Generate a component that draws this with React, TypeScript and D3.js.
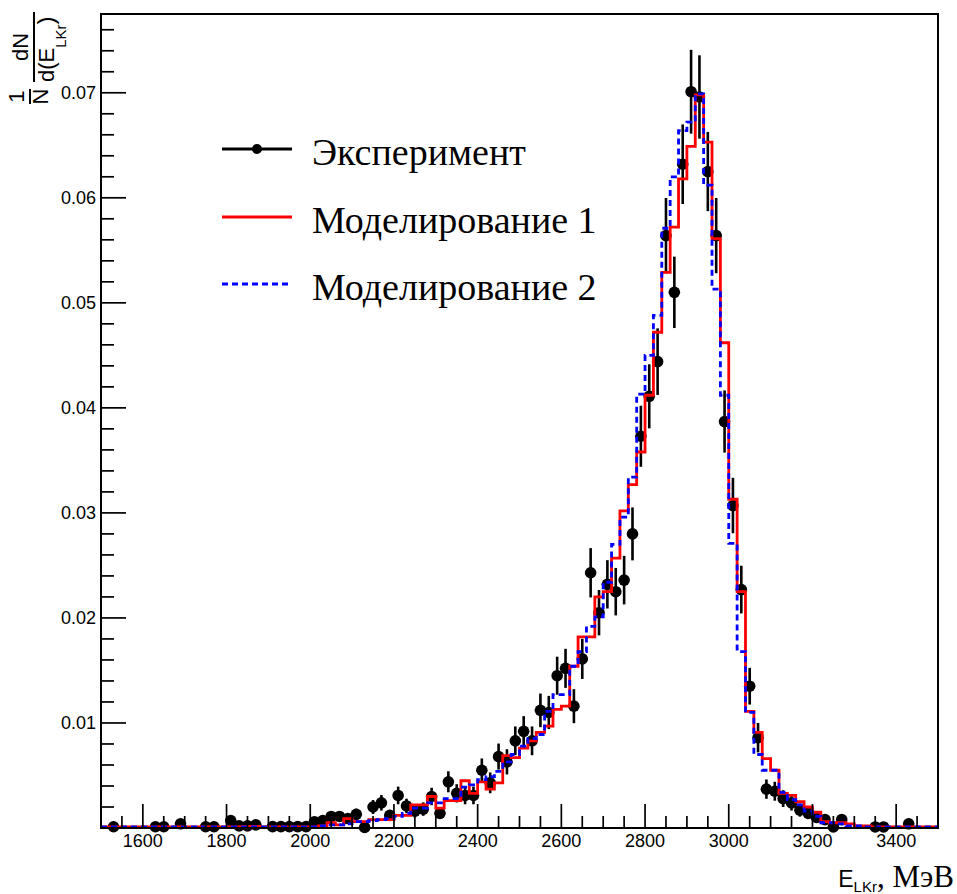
import React from 'react';
import * as d3 from 'd3';

const binCenters = [
  1510, 1530, 1550, 1570, 1590, 1610, 1630, 1650, 1670, 1690,
  1710, 1730, 1750, 1770, 1790, 1810, 1830, 1850, 1870, 1890,
  1910, 1930, 1950, 1970, 1990, 2010, 2030, 2050, 2070, 2090,
  2110, 2130, 2150, 2170, 2190, 2210, 2230, 2250, 2270, 2290,
  2310, 2330, 2350, 2370, 2390, 2410, 2430, 2450, 2470, 2490,
  2510, 2530, 2550, 2570, 2590, 2610, 2630, 2650, 2670, 2690,
  2710, 2730, 2750, 2770, 2790, 2810, 2830, 2850, 2870, 2890,
  2910, 2930, 2950, 2970, 2990, 3010, 3030, 3050, 3070, 3090,
  3110, 3130, 3150, 3170, 3190, 3210, 3230, 3250, 3270, 3290,
  3310, 3330, 3350, 3370, 3390, 3410, 3430, 3450, 3470, 3490,
];

const expValues: (number | null)[] = [
  null, 0.00012, null, null, null, null, 0.00012, 0.00012, null, 0.0004,
  null, null, 0.00012, 0.00012, null, 0.0007, 0.0002, 0.0002, 0.0003, null,
  0.00013, 0.00013, 0.00013, 0.00013, 0.00013, 0.0006, 0.0007, 0.0011, 0.0011, 0.0009,
  0.0013, 0.00005, 0.0020, 0.0024, 0.0012, 0.0031, 0.0021, 0.0016, 0.0018, 0.0030,
  0.0014, 0.0044, 0.0033, 0.0031, 0.0031, 0.0055, 0.0043, 0.0068, 0.0063, 0.0083,
  0.0092, 0.0083, 0.0112, 0.0110, 0.0145, 0.0152, 0.0116, 0.0161, 0.0243, 0.0205,
  0.0232, 0.0225, 0.0236, 0.0280, 0.0373, 0.0411, 0.0444, 0.0564, 0.0510, 0.0632,
  0.0701, 0.0696, 0.0625, 0.0564, 0.0387, 0.0307, 0.0227, 0.0135, 0.0086, 0.0037,
  0.0035, 0.0028, 0.0024, 0.0017, 0.0014, 0.0010, 0.0008, 0.0001, 0.0008, null,
  null, null, 0.0001, 0.0001, null, null, 0.0004, null, null, null,
];

const expErrors = [
  0, 0.00016, 0, 0, 0, 0, 0.00016, 0.00016, 0, 0.0003,
  0, 0, 0.00016, 0.00016, 0, 0.0004, 0.00021, 0.00021, 0.00026, 0,
  0.00017, 0.00017, 0.00017, 0.00017, 0.00017, 0.00037, 0.0004, 0.0005, 0.0005, 0.00045,
  0.00054, 0.0001, 0.00066, 0.00074, 0.00052, 0.00084, 0.00069, 0.0006, 0.00064, 0.00083,
  0.00056, 0.001, 0.00087, 0.00084, 0.00084, 0.00112, 0.00099, 0.00124, 0.0012, 0.00137,
  0.00145, 0.00137, 0.0016, 0.00158, 0.00181, 0.00186, 0.00162, 0.00191, 0.00235, 0.00216,
  0.0023, 0.00226, 0.00231, 0.00252, 0.00291, 0.00305, 0.00317, 0.00358, 0.0034, 0.00379,
  0.00399, 0.00397, 0.00377, 0.00358, 0.00296, 0.00264, 0.00227, 0.00175, 0.0014, 0.00092,
  0.0009, 0.0008, 0.00074, 0.00062, 0.00056, 0.00048, 0.00043, 0.00015, 0.00043, 0,
  0, 0, 0.00015, 0.00015, 0, 0, 0.0003, 0, 0, 0,
];

const sim1Values = [
  0.0001, 0.0001, 0.0001, 0.0001, 0.0001, 0.0001, 0.0001, 0.0001, 0.0001, 0.0001,
  0.0001, 0.0001, 0.0001, 0.0001, 0.0001, 0.0001, 0.0001, 0.00015, 0.00015, 0.0001,
  0.0001, 0.0001, 0.0001, 0.0001, 0.0001, 0.0001, 0.0002, 0.0005, 0.0003, 0.0009,
  0.0006, 0.0006, 0.0008, 0.0008, 0.0008, 0.0012, 0.0012, 0.0022, 0.0022, 0.0030,
  0.0019, 0.0026, 0.0026, 0.0045, 0.0033, 0.0044, 0.0037, 0.0043, 0.0069, 0.0067,
  0.0076, 0.0083, 0.0091, 0.0097, 0.0113, 0.0116, 0.0154, 0.0182, 0.0182, 0.0220,
  0.0225, 0.0257, 0.0302, 0.0327, 0.0358, 0.0412, 0.0472, 0.0529, 0.0572, 0.0618,
  0.0649, 0.0698, 0.0653, 0.0561, 0.0462, 0.0313, 0.0225, 0.0111, 0.0091, 0.0066,
  0.0055, 0.0033, 0.0031, 0.0025, 0.0020, 0.0015, 0.0006, 0.0005, 0.0005, 0.0004,
  0.0002, 0.0002, 0.0001, 0.0001, 0.0001, 0.0001, 0.0001, 0.0001, 0.0001, 0.0001,
];

const sim2Values = [
  0.0001, 0.0001, 0.0001, 0.0001, 0.0001, 0.0001, 0.0001, 0.0001, 0.0001, 0.0001,
  0.0001, 0.0001, 0.0001, 0.0001, 0.0001, 0.0001, 0.0001, 0.0001, 0.0001, 0.0001,
  0.0001, 0.0001, 0.0001, 0.0001, 0.0001, 0.0001, 0.0002, 0.0003, 0.0003, 0.0004,
  0.0006, 0.0006, 0.0007, 0.0008, 0.0009, 0.0011, 0.0014, 0.0019, 0.0019, 0.0024,
  0.0024, 0.0028, 0.0028, 0.0039, 0.0041, 0.0046, 0.0049, 0.0054, 0.0063, 0.0070,
  0.0078, 0.0085, 0.0089, 0.0111, 0.0127, 0.0127, 0.0154, 0.0168, 0.0192, 0.0201,
  0.0234, 0.0270, 0.0296, 0.0334, 0.0413, 0.0450, 0.0488, 0.0571, 0.0620, 0.0664,
  0.0672, 0.0699, 0.0612, 0.0513, 0.0412, 0.0271, 0.0168, 0.0110, 0.0070, 0.0055,
  0.0055, 0.0034, 0.0027, 0.0022, 0.0016, 0.0011, 0.0005, 0.0005, 0.0004, 0.0002,
  0.0002, 0.0001, 0.0001, 0.0001, 0.0001, 0.0001, 0.0001, 0.0001, 0.0001, 0.0001,
];

const xTickValues = [1600, 1800, 2000, 2200, 2400, 2600, 2800, 3000, 3200, 3400];
const yTickValues = [0.01, 0.02, 0.03, 0.04, 0.05, 0.06, 0.07];
const yTickLabels = ['0.01', '0.02', '0.03', '0.04', '0.05', '0.06', '0.07'];
const legendLabels = ['Эксперимент', 'Моделирование 1', 'Моделирование 2'];

const SANS = "'Liberation Sans', Arial, sans-serif";
const SERIF = "'Liberation Serif', 'Times New Roman', serif";

export default function App() {
  const W = 957;
  const H = 894;
  const left = 101, right = 938, top = 14, bottom = 828;
  const x = d3.scaleLinear().domain([1500, 3500]).range([left, right]);
  const y = d3.scaleLinear().domain([0, 0.0775]).range([bottom, top]);
  const binW = binCenters[1] - binCenters[0];

  const stepPath = (vals: number[]) => {
    const pts: [number, number][] = binCenters.map((c, i) => [c - binW / 2, vals[i]]);
    pts.push([binCenters[binCenters.length - 1] + binW / 2, vals[vals.length - 1]]);
    return d3
      .line<[number, number]>()
      .x((d) => x(d[0]))
      .y((d) => y(d[1]))
      .curve(d3.curveStepAfter)(pts) as string;
  };

  const xMinor = d3.range(1500, 3501, 50).filter((v) => v % 200 !== 0);
  const yMinor = d3.range(0, 0.0776, 0.002).filter((v) => Math.abs(v / 0.01 - Math.round(v / 0.01)) > 1e-6);

  const legendY = [149, 217, 284];

  return (
    <svg width={W} height={H} style={{ position: 'absolute', left: 0, top: 0, background: '#fff' }}>
      <rect x={0} y={0} width={W} height={H} fill="#fff" />
      {/* experiment points */}
      <g>
        {binCenters.map((c, i) => {
          const v = expValues[i];
          if (v === null) return null;
          const e = expErrors[i];
          return (
            <g key={'e' + i}>
              {e > 0 && (
                <line x1={x(c)} x2={x(c)} y1={y(Math.max(0, v - e))} y2={y(v + e)} stroke="#000" strokeWidth={2.6} />
              )}
              <circle cx={x(c)} cy={y(v)} r={5.8} fill="#000" />
            </g>
          );
        })}
      </g>
      {/* simulations */}
      <path d={stepPath(sim1Values)} fill="none" stroke="#ff0000" strokeWidth={2.8} />
      <path d={stepPath(sim2Values)} fill="none" stroke="#0000ff" strokeWidth={2.8} strokeDasharray="6,4" />

      {/* frame */}
      <rect x={left} y={top} width={right - left} height={bottom - top} fill="none" stroke="#000" strokeWidth={2} />

      {/* x ticks */}
      {xTickValues.map((v) => (
        <g key={'xt' + v}>
          <line x1={x(v)} x2={x(v)} y1={bottom} y2={bottom - 24} stroke="#000" strokeWidth={1.7} />
          <text x={x(v)} y={847} textAnchor="middle" fontFamily={SANS} fontSize={18} fill="#000">
            {v}
          </text>
        </g>
      ))}
      {xMinor.map((v) => (
        <line key={'xm' + v} x1={x(v)} x2={x(v)} y1={bottom} y2={bottom - 12} stroke="#000" strokeWidth={1.7} />
      ))}

      {/* y ticks */}
      {yTickValues.map((v, i) => (
        <g key={'yt' + v}>
          <line x1={left} x2={left + 25} y1={y(v)} y2={y(v)} stroke="#000" strokeWidth={1.7} />
          <text x={96} y={y(v) + 6.5} textAnchor="end" fontFamily={SANS} fontSize={18} fill="#000">
            {yTickLabels[i]}
          </text>
        </g>
      ))}
      {yMinor.map((v, i) => (
        <line key={'ym' + i} x1={left} x2={left + 13} y1={y(v)} y2={y(v)} stroke="#000" strokeWidth={1.7} />
      ))}

      {/* y title */}
      <g transform="translate(34,60) rotate(-90)" fontFamily={SANS} fill="#000">
        <line x1={-22} x2={48} y1={0} y2={0} stroke="#000" strokeWidth={2} />
        <text x={13} y={-6} fontSize={22} textAnchor="middle">dN</text>
        <text x={-22} y={20} fontSize={22}>
          d(E
          <tspan fontSize={15} dy={12}>LKr</tspan>
          <tspan fontSize={24} dy={-12}>)</tspan>
        </text>
        <line x1={-44} x2={-29} y1={-4} y2={-4} stroke="#000" strokeWidth={2} />
        <text x={-36.5} y={-10} fontSize={22} textAnchor="middle">1</text>
        <text x={-36.5} y={14} fontSize={22} textAnchor="middle">N</text>
      </g>

      {/* x title */}
      <text x={954} y={887} textAnchor="end" fill="#000">
        <tspan fontFamily={SANS} fontSize={23}>E</tspan>
        <tspan fontFamily={SANS} fontSize={15} dy={5}>LKr</tspan>
        <tspan fontFamily={SERIF} fontSize={31} dy={-5}>, МэВ</tspan>
      </text>

      {/* legend */}
      <g>
        <line x1={222} x2={292} y1={legendY[0]} y2={legendY[0]} stroke="#000" strokeWidth={3} />
        <circle cx={257} cy={legendY[0]} r={5} fill="#000" />
        <line x1={222} x2={292} y1={legendY[1]} y2={legendY[1]} stroke="#ff0000" strokeWidth={3} />
        <line x1={222} x2={292} y1={legendY[2]} y2={legendY[2]} stroke="#0000ff" strokeWidth={3} strokeDasharray="6,4" />
        {legendLabels.map((t, i) => (
          <text key={t} x={312} y={legendY[i] + 16} fontFamily={SERIF} fontSize={38} fill="#000">
            {t}
          </text>
        ))}
      </g>
    </svg>
  );
}
